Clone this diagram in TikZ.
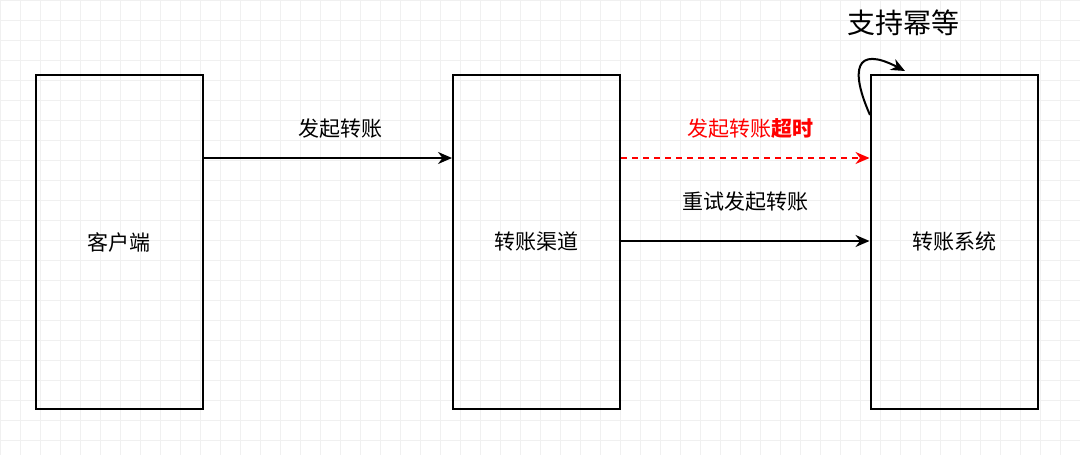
\documentclass[tikz,border=0pt]{standalone}
\usepackage{fontspec}
\usetikzlibrary{arrows.meta}
\newfontfamily\cjk{Noto Sans CJK SC}
\begin{document}
\begin{tikzpicture}[x=1pt,y=-1pt,
  box/.style={draw,line width=2pt,minimum width=167pt,minimum height=334pt,font=\cjk\fontsize{21}{24}\selectfont,inner sep=0pt},
  arr/.style={-{Stealth[length=14pt,width=12pt]},line width=2pt},
  lbl/.style={font=\cjk\fontsize{21}{24}\selectfont}]
\useasboundingbox (0,0) rectangle (1080,455);
\fill[white] (0,0) rectangle (1080,455);
\draw[gray!12,step=20pt] (0,0) grid (1080,455);
\node[box] (c) at (119,242) {客户端};
\node[box] (q) at (536.5,242) {转账渠道};
\node[box] (s) at (954,242) {转账系统};
\draw[arr] (c.east|-0,158) -- (q.west|-0,158);
\draw[arr,red,dash pattern=on 6pt off 5pt] (q.east|-0,158) -- (s.west|-0,158);
\draw[arr] (q.east|-0,241) -- (s.west|-0,241);
\node[lbl] (l1) at (340,129) {发起转账};
\node[lbl,text=red] (l2) at (750,129) {发起转账\textbf{超时}};
\node[lbl] (l3) at (745,202) {重试发起转账};
\node[font=\cjk\fontsize{28}{30}\selectfont] (l4) at (903,23) {支持幂等};
\coordinate (a) at (870,115);
\coordinate (b) at (905,71);
\draw[arr] (a) .. controls (850,70) and (855,45) .. (b);
\end{tikzpicture}
\end{document}
